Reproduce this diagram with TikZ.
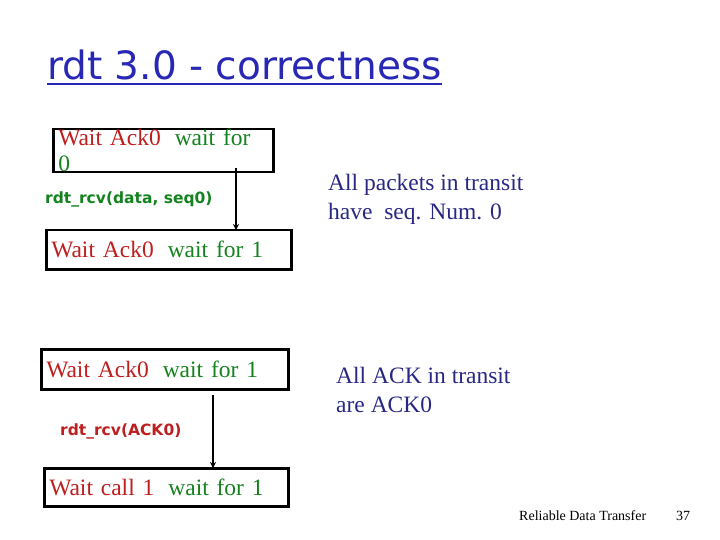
\documentclass[tikz,border=0pt]{standalone}
\usepackage{fontspec}
\setmainfont{Liberation Serif}
\newfontfamily\comic{DejaVu Sans}
\usetikzlibrary{arrows.meta}
\definecolor{tred}{RGB}{190,30,30}
\definecolor{tgreen}{RGB}{20,130,30}
\definecolor{tblue}{RGB}{40,40,180}
\definecolor{tnavy}{RGB}{40,40,130}
\begin{document}
\begin{tikzpicture}[x=1pt,y=-1pt,
  st/.style={draw,line width=2.5pt,anchor=north west,inner xsep=5pt,inner ysep=0pt,align=left,font=\fontsize{23.5}{26}\selectfont},
  lab/.style={anchor=west,inner sep=0pt,font=\comic\bfseries\fontsize{15.5}{18}\selectfont},
  note/.style={anchor=north west,inner sep=0pt,align=left,text=tnavy,font=\fontsize{23.5}{29}\selectfont},
  arr/.style={line width=2pt,-{Stealth[length=6pt,width=6pt]}}]
\useasboundingbox (0,0) rectangle (720,540);
\node[anchor=south west,inner sep=0pt,text=tblue,font=\comic\fontsize{39}{42}\selectfont] (title) at (47,80) {rdt 3.0 - correctness};
\draw[tblue,line width=2pt] (title.south west) ++(0,4) -- ([yshift=-4pt]title.south east);
\node[st,text width=210pt,minimum height=40pt] (b1) at (52,128) {\textcolor{tred}{Wait Ack0}\hspace{14pt}\textcolor{tgreen}{wait for 0}};
\node[st,text width=235pt,minimum height=39pt] (b2) at (45,229) {\textcolor{tred}{Wait Ack0}\hspace{14pt}\textcolor{tgreen}{wait for 1}};
\node[st,text width=237pt,minimum height=40pt] (b3) at (40,348) {\textcolor{tred}{Wait Ack0}\hspace{14pt}\textcolor{tgreen}{wait for 1}};
\node[st,text width=234pt,minimum height=38pt] (b4) at (43,467) {\textcolor{tred}{Wait call 1}\hspace{14pt}\textcolor{tgreen}{wait for 1}};
\coordinate (a1s) at (236,168); \coordinate (a1e) at (236,230);
\draw[arr] (a1s) -- (a1e);
\coordinate (a3s) at (213,395); \coordinate (a3e) at (213,468);
\draw[arr] (a3s) -- (a3e);
\node[lab,text=tgreen] (l1) at (45,199) {rdt\_rcv(data, seq0)};
\node[lab,text=tred] (l2) at (60,431) {rdt\_rcv(ACK0)};
\node[note] (n1) at (328,174) {All packets in transit\\have\ \ seq. Num. 0};
\node[note] (n2) at (336,367) {All ACK in transit\\are ACK0};
\node[anchor=west,inner sep=0pt,font=\fontsize{14}{15}\selectfont] (ft) at (519,516) {Reliable Data Transfer};
\node[anchor=west,inner sep=0pt,font=\fontsize{14}{15}\selectfont] (pg) at (676,516) {37};
\end{tikzpicture}
\end{document}
